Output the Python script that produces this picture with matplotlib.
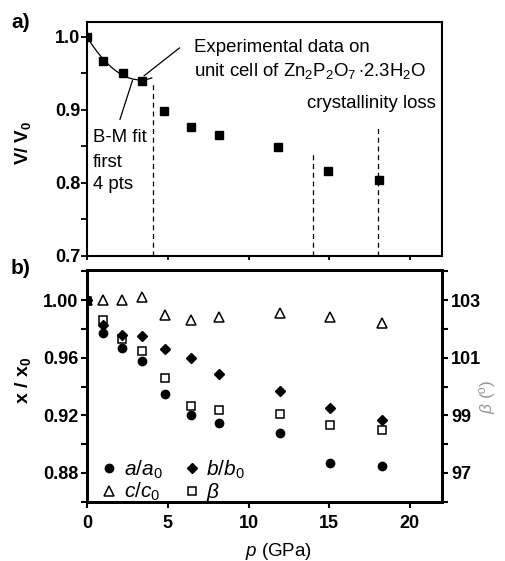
import numpy as np
import matplotlib
matplotlib.use("Agg")
import matplotlib.pyplot as plt
from matplotlib.ticker import MultipleLocator
from matplotlib.lines import Line2D

plt.rcParams['font.family'] = ['Liberation Sans', 'DejaVu Sans']
plt.rcParams['mathtext.fontset'] = 'custom'
plt.rcParams['mathtext.rm'] = 'Liberation Sans'
plt.rcParams['mathtext.it'] = 'Liberation Sans:italic'
plt.rcParams['mathtext.bf'] = 'Liberation Sans:bold'

# ---- data ----
pressure_V = [0.0, 1.0, 2.2, 3.4, 4.77, 6.45, 8.15, 11.85, 14.94, 18.1]
V_V0 = [1.000, 0.966, 0.950, 0.940, 0.898, 0.877, 0.865, 0.849, 0.816, 0.804]

pressure = [0.0, 0.97, 2.18, 3.42, 4.8, 6.45, 8.15, 11.93, 15.05, 18.25]
a_a0 = [1.000, 0.977, 0.967, 0.958, 0.935, 0.920, 0.915, 0.908, 0.887, 0.885]
b_b0 = [1.000, 0.983, 0.976, 0.975, 0.966, 0.960, 0.949, 0.937, 0.925, 0.917]
c_c0 = [1.000, 1.000, 1.000, 1.002, 0.990, 0.986, 0.988, 0.991, 0.988, 0.984]
beta = [102.97, 102.33, 101.64, 101.25, 100.29, 99.33, 99.18, 99.05, 98.68, 98.49]

dashed_p = [4.08, 13.97, 18.04]
dashed_top = [0.937, 0.842, 0.879]

W, H = 505, 561
fig = plt.figure(figsize=(W / 100, H / 100), dpi=100)

L = 87.3 / W
Wd = (442 - 87.3) / W
ax1 = fig.add_axes([L, 1 - 256 / H, Wd, (256 - 22) / H])
ax2 = fig.add_axes([L, 1 - 501.7 / H, Wd, (501.7 - 270) / H])

tickfont = dict(fontsize=13, fontweight='bold')
annfs = 13.4

# ---- top panel ----
ax1.plot(pressure_V, V_V0, 's', color='black', ms=5.2, zorder=3)
coef = np.polyfit(pressure_V[:4], V_V0[:4], 2)
pp = np.linspace(0, 4.0, 100)
ax1.plot(pp, np.polyval(coef, pp), '-', color='black', lw=0.9)
for xp, yt in zip(dashed_p, dashed_top):
    ax1.plot([xp, xp], [0.7, yt], '--', color='black', lw=0.9, dashes=(4, 3))
ax1.set_xlim(0, 22)
ax1.set_ylim(0.7, 1.02)
ax1.yaxis.set_minor_locator(MultipleLocator(0.05))
ax1.xaxis.set_major_locator(MultipleLocator(5))
ax1.set_xticklabels([])
ax1.set_yticks([0.7, 0.8, 0.9, 1.0])
ax1.set_yticklabels(['0.7', '0.8', '0.9', '1.0'], **tickfont)
ax1.tick_params(axis='y', which='major', direction='out', length=4, width=1.3, pad=1)
ax1.tick_params(axis='y', which='minor', direction='out', length=4, width=1.3)
ax1.tick_params(axis='x', which='major', direction='out', length=3, width=1.3)
for s in ax1.spines.values():
    s.set_linewidth(1.5)
ax1.set_ylabel(r'$\mathbf{V/\ V_0}$', fontsize=13.5)
ax1.yaxis.set_label_coords(-0.153, 0.483)

ax1.annotate('', xy=(3.38, 0.944), xytext=(5.86, 0.987),
             arrowprops=dict(arrowstyle='-', color='black', lw=0.9))
ax1.text(6.6, 0.985, 'Experimental data on', fontsize=annfs, va='center')
ax1.text(6.6, 0.953, r'unit cell of Zn$_2$P$_2$O$_7\,$$\cdot$2.3H$_2$O', fontsize=annfs, va='center')
ax1.annotate('', xy=(2.86, 0.944), xytext=(1.97, 0.883),
             arrowprops=dict(arrowstyle='-', color='black', lw=0.9))
ax1.text(0.33, 0.862, 'B-M fit', fontsize=annfs, va='center')
ax1.text(0.33, 0.828, 'first', fontsize=annfs, va='center')
ax1.text(0.33, 0.798, '4 pts', fontsize=annfs, va='center')
ax1.text(13.6, 0.908, 'crystallinity loss', fontsize=annfs, va='center')

fig.text(11 / W, 1 - 23 / H, 'a)', fontsize=15, fontweight='bold', va='center')
fig.text(11 / W, 1 - 268 / H, 'b)', fontsize=15, fontweight='bold', va='center')

# ---- bottom panel ----
ax2.plot(pressure, a_a0, 'o', color='black', ms=6, zorder=3)
ax2.plot(pressure, b_b0, 'D', color='black', ms=5, zorder=3)
ax2.plot(pressure, c_c0, '^', mfc='none', mec='black', mew=1.1, ms=7, zorder=3)
ax3 = ax2.twinx()
ax3.plot(pressure, beta, 's', mfc='none', mec='black', mew=1.1, ms=6.2, zorder=4)

ax2.set_xlim(0, 22)
ax2.set_ylim(0.86, 1.021)
ax3.set_ylim(96.0, 104.05)
ax2.set_yticks([0.88, 0.92, 0.96, 1.00])
ax2.set_yticklabels(['0.88', '0.92', '0.96', '1.00'], **tickfont)
ax2.yaxis.set_minor_locator(MultipleLocator(0.02))
ax2.set_xticks([0, 5, 10, 15, 20])
ax2.set_xticklabels(['0', '5', '10', '15', '20'], **tickfont)
ax3.set_yticks([97, 99, 101, 103])
ax3.set_yticklabels(['97', '99', '101', '103'], **tickfont)
ax3.yaxis.set_minor_locator(MultipleLocator(1))
for a in (ax2, ax3):
    a.tick_params(which='both', direction='out', length=4.5, width=1.5, pad=2)
    for s in a.spines.values():
        s.set_linewidth(2)
ax2.tick_params(axis='x', pad=5)

ax2.set_ylabel(r'$\mathbf{x\ /\ x_0}$', fontsize=14)
ax2.yaxis.set_label_coords(-0.153, 0.525)
ax3.set_ylabel(r'$\beta$ (º)', fontsize=12.5, color='#999999')
ax3.yaxis.set_label_coords(1.10, 0.452)
ax2.set_xlabel(r'$p$ (GPa)', fontsize=13.5)
ax2.xaxis.set_label_coords(0.538, -0.17)

handles = [
    Line2D([], [], ls='none', marker='o', color='black', ms=6),
    Line2D([], [], ls='none', marker='^', mfc='none', mec='black', mew=1.1, ms=7),
    Line2D([], [], ls='none', marker='D', color='black', ms=5),
    Line2D([], [], ls='none', marker='s', mfc='none', mec='black', mew=1.1, ms=6.2),
]
labels = [r'$a/a_0$', r'$c/c_0$', r'$b/b_0$', r'$\beta$']
ax2.legend(handles, labels, ncol=2, loc='lower left', frameon=False, fontsize=15,
           handletextpad=0.1, columnspacing=0.8, labelspacing=0.0,
           borderaxespad=0.0, handlelength=1.2, bbox_to_anchor=(0.003, -0.045))

fig.savefig('out.png', dpi=100)
